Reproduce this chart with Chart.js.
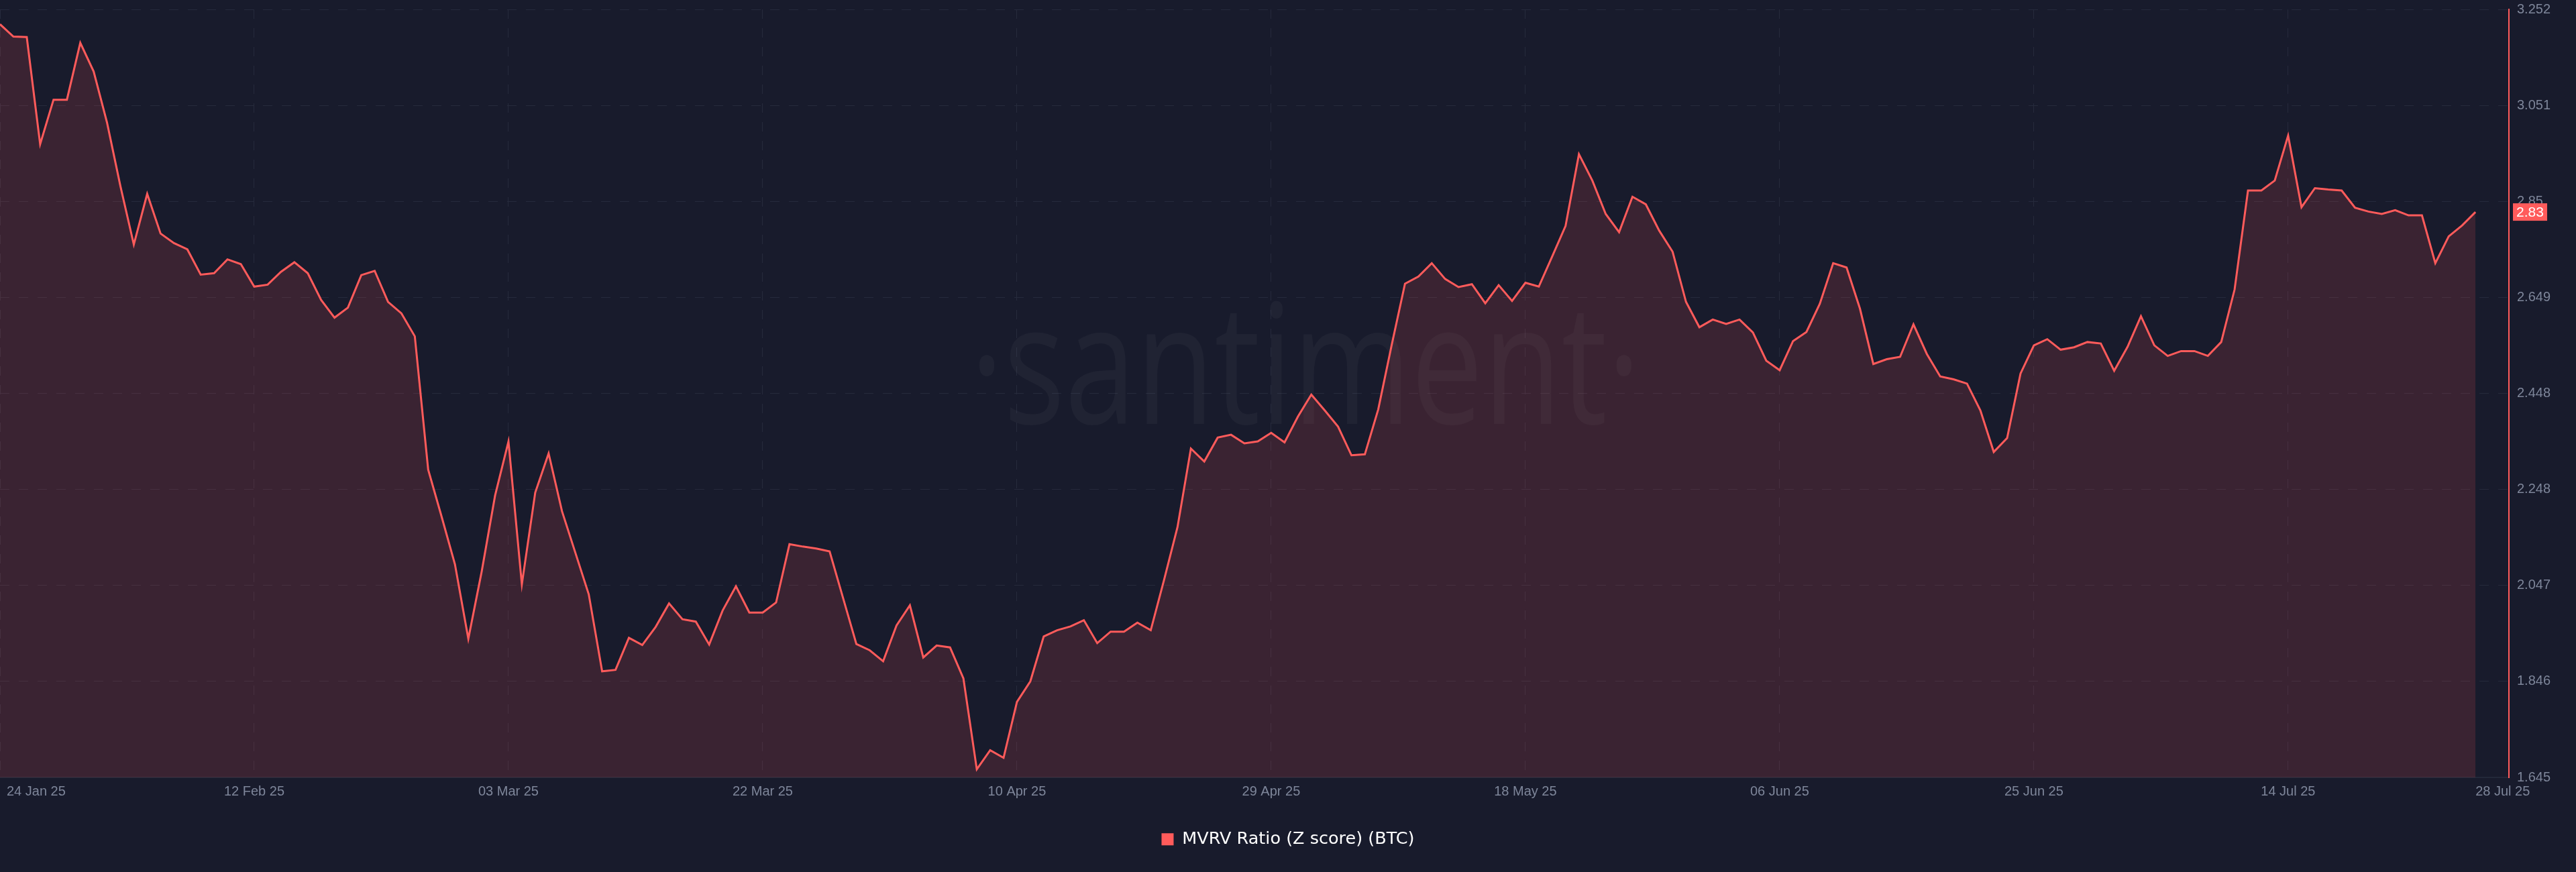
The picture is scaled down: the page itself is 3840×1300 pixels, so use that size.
<!DOCTYPE html>
<html>
<head>
<meta charset="utf-8">
<script src="https://cdn.jsdelivr.net/npm/chart.js@4.4.1/dist/chart.umd.min.js"></script>
<style>
  html, body { margin: 0; padding: 0; background: #181b2c; }
  #wrap { width: 3840px; height: 1300px; }
</style>
</head>
<body>
<div id="wrap"><canvas id="myChart" width="3840" height="1300"></canvas></div>
<script>
// MVRV Ratio (Z score) for BTC, one value per day from 24 Jan 25
var startDate = new Date(2025, 0, 24);
var mvrv = [
  3.221, 3.195, 3.194, 2.970, 3.063, 3.063, 3.182, 3.122, 3.015, 2.882,
  2.760, 2.866, 2.783, 2.763, 2.750, 2.697, 2.700, 2.729, 2.719, 2.672,
  2.676, 2.703, 2.723, 2.700, 2.644, 2.607, 2.628, 2.696, 2.705, 2.640,
  2.616, 2.568, 2.289, 2.191, 2.091, 1.935, 2.076, 2.235, 2.348, 2.049,
  2.241, 2.323, 2.202, 2.115, 2.028, 1.867, 1.870, 1.937, 1.922, 1.960,
  2.009, 1.976, 1.971, 1.923, 1.994, 2.045, 1.990, 1.990, 2.011, 2.133,
  2.128, 2.124, 2.118, 2.021, 1.924, 1.911, 1.888, 1.963, 2.005, 1.896,
  1.921, 1.917, 1.852, 1.662, 1.702, 1.686, 1.803, 1.846, 1.940, 1.953,
  1.961, 1.974, 1.926, 1.950, 1.950, 1.969, 1.953, 2.059, 2.169, 2.333,
  2.306, 2.356, 2.362, 2.344, 2.348, 2.366, 2.346, 2.400, 2.446, 2.413,
  2.379, 2.319, 2.321, 2.415, 2.549, 2.678, 2.693, 2.721, 2.688, 2.671,
  2.677, 2.637, 2.675, 2.642, 2.680, 2.672, 2.735, 2.799, 2.949, 2.894,
  2.824, 2.786, 2.860, 2.844, 2.789, 2.745, 2.640, 2.587, 2.603, 2.594,
  2.603, 2.576, 2.517, 2.497, 2.558, 2.577, 2.636, 2.721, 2.712, 2.626,
  2.510, 2.520, 2.525, 2.593, 2.531, 2.484, 2.478, 2.469, 2.413, 2.326,
  2.355, 2.490, 2.549, 2.562, 2.540, 2.545, 2.556, 2.553, 2.496, 2.546,
  2.610, 2.549, 2.527, 2.537, 2.537, 2.527, 2.556, 2.666, 2.873, 2.873,
  2.894, 2.988, 2.838, 2.878, 2.875, 2.873, 2.837, 2.829, 2.824, 2.832,
  2.821, 2.821, 2.721, 2.777, 2.800, 2.828
];
var xTickLabels = ["24 Jan 25", "12 Feb 25", "03 Mar 25", "22 Mar 25", "10 Apr 25", "29 Apr 25",
                   "18 May 25", "06 Jun 25", "25 Jun 25", "14 Jul 25", "28 Jul 25"];
var yTickLabels = ["1.645", "1.846", "2.047", "2.248", "2.448", "2.649", "2.85", "3.051", "3.252"];
var seriesName = "MVRV Ratio (Z score) (BTC)";

var red = "#ff5b5b";
var tickColor = "#7e869a";
var gridColor = "#262a3c";
var font = "'Liberation Sans', Arial, sans-serif";
var months = ["Jan","Feb","Mar","Apr","May","Jun","Jul","Aug","Sep","Oct","Nov","Dec"];

function fmtDate(d) {
  var dd = String(d.getDate()).padStart(2, "0");
  return dd + " " + months[d.getMonth()] + " " + String(d.getFullYear()).slice(2);
}
var dates = mvrv.map(function (v, i) {
  return fmtDate(new Date(startDate.getFullYear(), startDate.getMonth(), startDate.getDate() + i));
});
var tickIdx = xTickLabels.map(function (l) { return dates.indexOf(l); });
var points = mvrv.map(function (v, i) { return {x: i, y: v}; });

var watermark = {
  id: "watermark",
  beforeDatasetsDraw: function (chart) {
    var ctx = chart.ctx;
    var txt = "\u00B7santiment\u00B7";
    ctx.save();
    ctx.font = "250px 'Open Sans', sans-serif";
    var w = ctx.measureText(txt).width;
    ctx.translate(1946, 632);
    ctx.scale(1000 / w, 1);
    ctx.fillStyle = "rgba(255,255,255,0.035)";
    ctx.textAlign = "center";
    ctx.textBaseline = "alphabetic";
    ctx.fillText(txt, 0, 0);
    ctx.restore();
  }
};

var extras = {
  id: "extras",
  afterDraw: function (chart) {
    var ctx = chart.ctx;
    var xs = chart.scales.x, ys = chart.scales.y;
    ctx.save();
    // date labels under the axis
    ctx.font = "20px " + font;
    ctx.fillStyle = tickColor;
    ctx.textBaseline = "middle";
    var ty = chart.chartArea.bottom + 21;
    xTickLabels.forEach(function (lab, i) {
      var px = xs.getPixelForValue(tickIdx[i]);
      if (i === 0) { ctx.textAlign = "left"; ctx.fillText(lab, px + 10, ty); }
      else if (i === xTickLabels.length - 1) { ctx.textAlign = "left"; ctx.fillText(lab, px, ty); }
      else { ctx.textAlign = "center"; ctx.fillText(lab, px, ty); }
    });
    // last value badge
    var last = mvrv[mvrv.length - 1];
    var py = ys.getPixelForValue(last);
    ctx.fillStyle = red;
    ctx.fillRect(ys.left + 6, py - 13, 51, 26);
    ctx.fillStyle = "#ffffff";
    ctx.font = "21px " + font;
    ctx.textAlign = "left";
    ctx.fillText(last.toFixed(2), ys.left + 11, py + 1);
    ctx.restore();
  }
};

new Chart("myChart", {
  type: "line",
  data: {
    datasets: [{
      label: seriesName,
      data: points,
      borderColor: red,
      backgroundColor: "rgba(255,90,90,0.15)",
      borderWidth: 3,
      fill: "start",
      tension: 0,
      pointRadius: 0
    }]
  },
  options: {
    responsive: false,
    animation: false,
    devicePixelRatio: 1,
    layout: {padding: {top: 14, left: 0, right: 0, bottom: 26}},
    scales: {
      x: {
        type: "linear",
        min: 0,
        max: 187.5,
        afterBuildTicks: function (scale) {
          scale.ticks = tickIdx.slice(0, -1).map(function (v) { return {value: v}; });
        },
        afterFit: function (scale) {
          var lh = scale.chart.legend ? scale.chart.legend.height : 72;
          scale.height = 1300 - 26 - 1159 - lh;
          scale.paddingLeft = 0; scale.paddingRight = 0;
        },
        ticks: {display: false},
        grid: {color: gridColor, lineWidth: 1, drawTicks: false},
        border: {display: true, color: "#232839", width: 2, dash: [14, 14]}
      },
      y: {
        position: "right",
        min: parseFloat(yTickLabels[0]),
        max: parseFloat(yTickLabels[yTickLabels.length - 1]),
        afterBuildTicks: function (scale) {
          scale.ticks = yTickLabels.map(function (l) { return {value: parseFloat(l)}; });
        },
        afterFit: function (scale) {
          scale.width = 100;
          scale.paddingTop = 0; scale.paddingBottom = 0;
        },
        ticks: {
          color: tickColor,
          font: {size: 20, family: font},
          padding: 12,
          callback: function (v) {
            var i = yTickLabels.map(parseFloat).indexOf(v);
            return i >= 0 ? yTickLabels[i] : "";
          }
        },
        grid: {color: gridColor, lineWidth: 1, drawTicks: false},
        border: {display: true, color: red, width: 2, dash: [14, 14]}
      }
    },
    plugins: {
      tooltip: {enabled: false},
      legend: {
        position: "bottom",
        labels: {
          color: "#ffffff",
          font: {size: 25.5, family: "'DejaVu Sans', sans-serif"},
          boxWidth: 18,
          boxHeight: 18,
          padding: 36,
          generateLabels: function (chart) {
            return Chart.defaults.plugins.legend.labels.generateLabels(chart).map(function (l) {
              l.fillStyle = red; l.strokeStyle = red; l.lineWidth = 0;
              return l;
            });
          }
        }
      }
    }
  },
  plugins: [watermark, extras]
});
</script>
</body>
</html>
